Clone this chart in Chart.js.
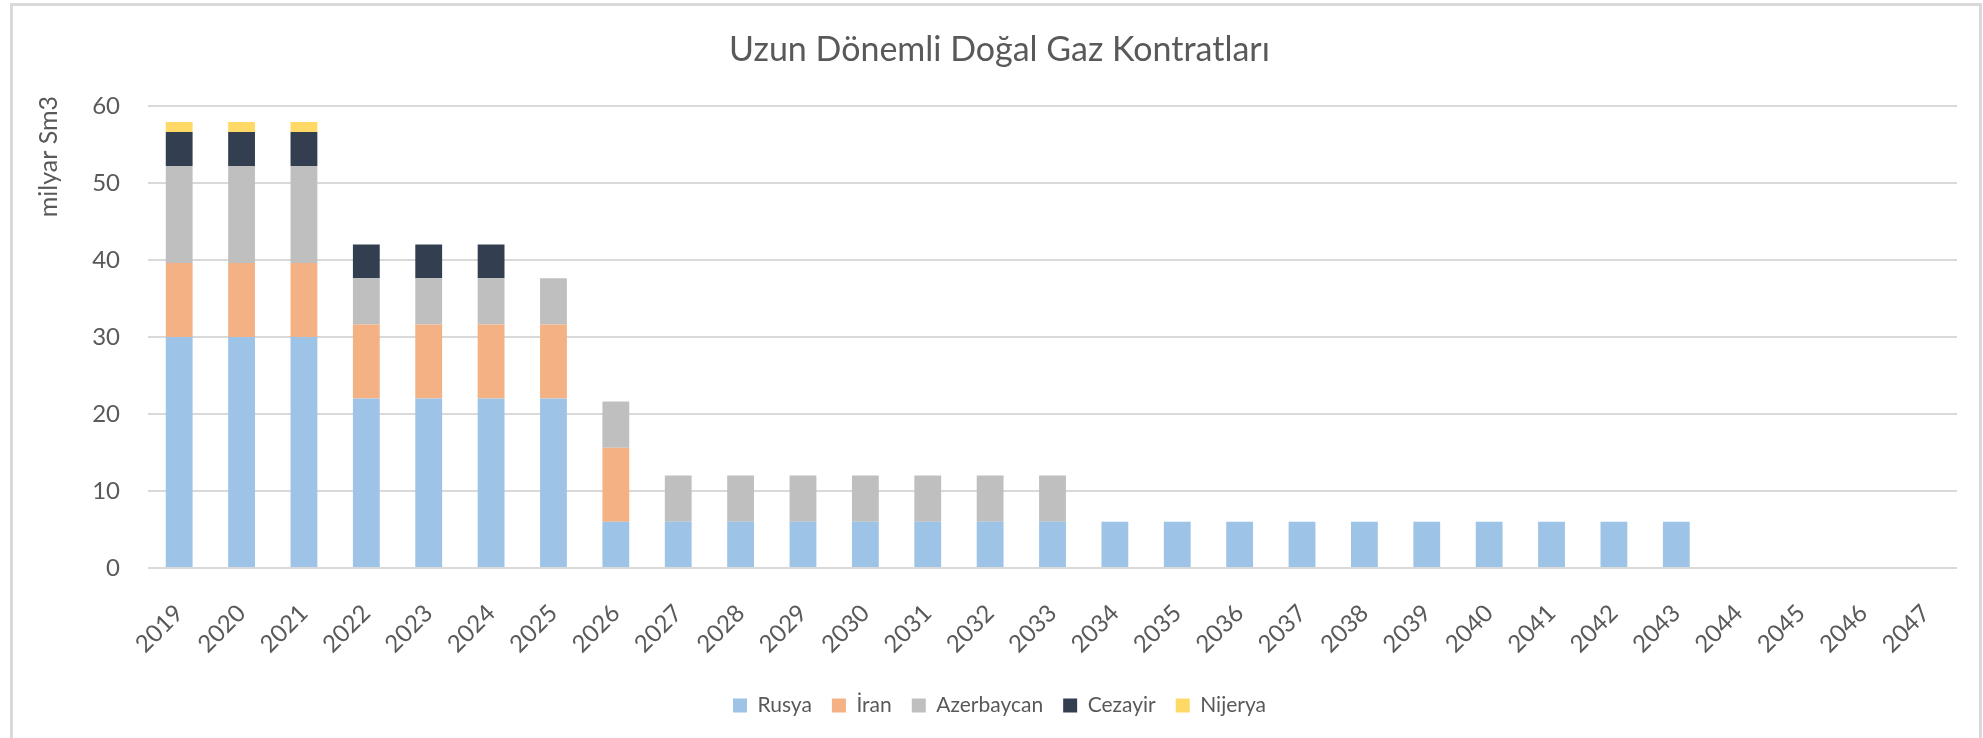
<!DOCTYPE html>
<html><head><meta charset="utf-8">
<script src="https://cdn.jsdelivr.net/npm/chart.js@4.4.1/dist/chart.umd.min.js"></script>
<style>html,body{margin:0;padding:0;background:#fff;overflow:hidden}#wrap{width:1983px;height:738px;position:relative}</style>
</head><body><div id="wrap"><canvas id="c" width="1983" height="738"></canvas></div>
<script>
const categories = ["2019","2020","2021","2022","2023","2024","2025","2026","2027","2028","2029","2030","2031","2032","2033","2034","2035","2036","2037","2038","2039","2040","2041","2042","2043","2044","2045","2046","2047"];
const rusya      = [30,30,30,22,22,22,22,6,6,6,6,6,6,6,6,6,6,6,6,6,6,6,6,6,6,0,0,0,0];
const iran       = [9.6,9.6,9.6,9.6,9.6,9.6,9.6,9.6,0,0,0,0,0,0,0,0,0,0,0,0,0,0,0,0,0,0,0,0,0];
const azerbaycan = [12.6,12.6,12.6,6,6,6,6,6,6,6,6,6,6,6,6,0,0,0,0,0,0,0,0,0,0,0,0,0,0];
const cezayir    = [4.4,4.4,4.4,4.4,4.4,4.4,0,0,0,0,0,0,0,0,0,0,0,0,0,0,0,0,0,0,0,0,0,0,0];
const nijerya    = [1.3,1.3,1.3,0,0,0,0,0,0,0,0,0,0,0,0,0,0,0,0,0,0,0,0,0,0,0,0,0,0];
const seriesNames = ["Rusya","İran","Azerbaycan","Cezayir","Nijerya"];
const yTicks = [0,10,20,30,40,50,60];
const chartTitle = "Uzun Dönemli Doğal Gaz Kontratları";
const yTitle = "milyar Sm3";

const colors = ["#9DC3E6","#F4B183","#BFBFBF","#333F50","#FFD966"];
const textColor = "#595959";
const FONT = "Lato, 'Open Sans', sans-serif";

const frame = {
  id: 'frame',
  beforeDraw(chart) {
    const ctx = chart.ctx;
    ctx.save();
    ctx.fillStyle = '#ffffff';
    ctx.fillRect(0, 0, chart.width, chart.height);
    ctx.strokeStyle = '#d9d9d9';
    ctx.lineWidth = 3;
    ctx.strokeRect(11.5, 4.5, 1969, 760);
    ctx.restore();
  },
  afterDraw(chart) {
    // y-axis title, placed near the top of the value axis as in the original
    const ctx = chart.ctx;
    const y = chart.scales.y;
    ctx.save();
    ctx.fillStyle = textColor;
    ctx.font = "25px " + FONT;
    ctx.textAlign = 'center';
    ctx.textBaseline = 'middle';
    ctx.translate(49, y.getPixelForValue(53.4));
    ctx.rotate(-Math.PI / 2);
    ctx.fillText(yTitle, 0, 0);
    ctx.restore();
  }
};

const values = [rusya, iran, azerbaycan, cezayir, nijerya];
new Chart(document.getElementById('c'), {
  type: 'bar',
  data: {
    labels: categories,
    datasets: seriesNames.map((n, i) => ({
      label: n,
      data: values[i],
      backgroundColor: colors[i],
      borderWidth: 0,
      barPercentage: 0.43,
      categoryPercentage: 1.0
    }))
  },
  options: {
    responsive: false,
    devicePixelRatio: 1,
    animation: false,
    layout: { padding: { left: 42, right: 26, top: 0, bottom: 12 } },
    plugins: {
      title: {
        display: true,
        text: chartTitle,
        color: textColor,
        font: { family: FONT, size: 34, weight: 'normal' },
        padding: { top: 30, bottom: 35 }
      },
      legend: {
        position: 'bottom',
        labels: {
          color: textColor,
          font: { family: FONT, size: 21 },
          boxWidth: 14,
          boxHeight: 14,
          padding: 20
        }
      },
      tooltip: { enabled: false }
    },
    scales: {
      x: {
        stacked: true,
        grid: { display: false, drawTicks: false },
        border: { display: false },
        ticks: {
          color: textColor,
          font: { family: FONT, size: 24 },
          minRotation: 45,
          maxRotation: 45,
          autoSkip: false,
          padding: 31
        },
        afterFit(scale) { scale.height = 107; }
      },
      y: {
        stacked: true,
        min: 0,
        max: 60,
        afterBuildTicks(scale) { scale.ticks = yTicks.map(v => ({ value: v })); },
        grid: { color: '#d9d9d9', lineWidth: 2, drawTicks: false },
        border: { display: false },
        ticks: {
          color: textColor,
          font: { family: FONT, size: 24 },
          padding: 28
        },
        afterFit(scale) { scale.width = 106; }
      }
    }
  },
  plugins: [frame]
});
</script>
</body></html>
